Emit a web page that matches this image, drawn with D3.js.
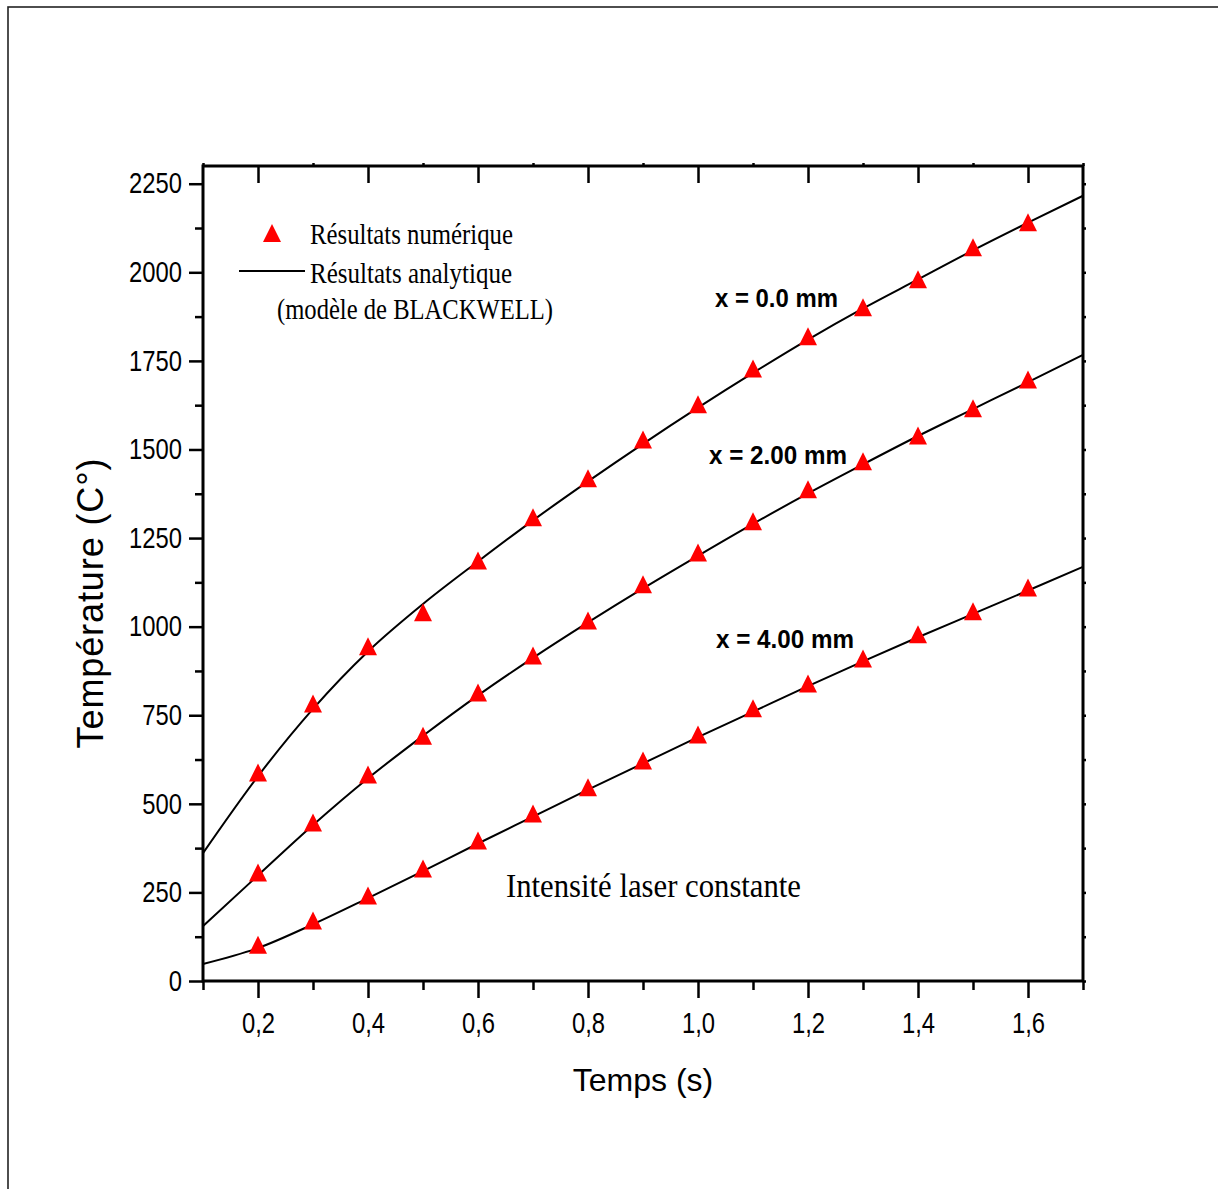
<!DOCTYPE html>
<html>
<head>
<meta charset="utf-8">
<script src="https://cdn.jsdelivr.net/npm/d3@7"></script>
<style>
body { margin: 0; background: #fff; }
svg { display: block; }
.tick text { font-family: "Liberation Sans Narrow", "Liberation Sans", Arial, sans-serif; font-size: 29px; fill: #000; }
.tick line { stroke: #000; stroke-width: 2.5; }
</style>
</head>
<body>
<svg id="chart" width="1218" height="1189"></svg>
<script>
// time (s)
var times = [0.2, 0.3, 0.4, 0.5, 0.6, 0.7, 0.8, 0.9, 1.0, 1.1, 1.2, 1.3, 1.4, 1.5, 1.6];
// numerical results (triangles)
var num_x0 = [580, 775, 936, 1032, 1178, 1300, 1410, 1520, 1619, 1720, 1811, 1893, 1972, 2062, 2133];
var num_x2 = [298, 439, 574, 684, 806, 910, 1009, 1111, 1201, 1289, 1379, 1458, 1531, 1608, 1689];
var num_x4 = [94, 162, 233, 309, 388, 464, 538, 614, 687, 761, 831, 902, 970, 1035, 1102];

// analytic curves (Blackwell), sampled along the drawn line
var line_t = [0.1, 0.2, 0.3, 0.4, 0.5, 0.6, 0.7, 0.8, 0.9, 1.0, 1.1, 1.2, 1.3, 1.4, 1.5, 1.6, 1.7];
var ana_x0 = [361, 578, 768, 930, 1064, 1184, 1300, 1410, 1516, 1618, 1716, 1810, 1898, 1980, 2062, 2140, 2216];
var ana_x2 = [155, 298, 440, 572, 692, 806, 912, 1012, 1108, 1200, 1290, 1376, 1458, 1538, 1614, 1690, 1767];
var ana_x4 = [48, 93, 160, 234, 310, 388, 464, 540, 614, 688, 760, 832, 902, 970, 1036, 1102, 1169];

var x_major = [0.2, 0.4, 0.6, 0.8, 1.0, 1.2, 1.4, 1.6];
var x_minor = [0.1, 0.3, 0.5, 0.7, 0.9, 1.1, 1.3, 1.5, 1.7];
var y_major = [0, 250, 500, 750, 1000, 1250, 1500, 1750, 2000, 2250];
var y_minor = [125, 375, 625, 875, 1125, 1375, 1625, 1875, 2125];

var labels = ["x = 0.0 mm", "x = 2.00 mm", "x = 4.00 mm"];

var svg = d3.select("#chart");
var pl = 203, pr = 1083, pt = 166, pb = 981;

var x = d3.scaleLinear().domain([0.1, 1.7]).range([pl, pr]);
var y = d3.scaleLinear().domain([0, 2300]).range([pb, pt]);

// outer border
svg.append("rect")
	.attr("x", 8).attr("y", 7)
	.attr("width", 1230).attr("height", 1200)
	.attr("fill", "none").attr("stroke", "#222").attr("stroke-width", 1.6);

var fmt = function(d){ return d3.format(".1f")(d).replace(".", ","); };

// squeeze labels to look like a narrow font
function narrow(g){
	g.select(".domain").remove();
	g.selectAll(".tick text").each(function(){
		var w = this.getComputedTextLength();
		d3.select(this).attr("textLength", w * 0.82).attr("lengthAdjust", "spacingAndGlyphs");
	});
}
function nodomain(g){ g.select(".domain").remove(); }

// bottom axis
svg.append("g").attr("transform", "translate(0," + pb + ")")
	.call(d3.axisBottom(x).tickValues(x_major).tickSize(17).tickPadding(14).tickFormat(fmt))
	.call(narrow);
svg.append("g").attr("transform", "translate(0," + pb + ")")
	.call(d3.axisBottom(x).tickValues(x_minor).tickSize(9).tickFormat(""))
	.call(nodomain);

// top axis (inward)
svg.append("g").attr("transform", "translate(0," + pt + ")")
	.call(d3.axisTop(x).tickValues(x_major).tickSize(-17).tickFormat(""))
	.call(nodomain);
svg.append("g").attr("transform", "translate(0," + pt + ")")
	.call(d3.axisTop(x).tickValues(x_minor).tickSize(3).tickFormat(""))
	.call(nodomain);

// left axis
svg.append("g").attr("transform", "translate(" + pl + ",0)")
	.call(d3.axisLeft(y).tickValues(y_major).tickSize(14).tickPadding(7).tickFormat(d3.format("d")))
	.call(narrow);
svg.append("g").attr("transform", "translate(" + pl + ",0)")
	.call(d3.axisLeft(y).tickValues(y_minor).tickSize(8).tickFormat(""))
	.call(nodomain);

// right axis (tiny ticks)
svg.append("g").attr("transform", "translate(" + pr + ",0)")
	.call(d3.axisRight(y).tickValues(y_major.concat(y_minor)).tickSize(3).tickFormat(""))
	.call(nodomain);

// frame
svg.append("rect")
	.attr("x", pl).attr("y", pt)
	.attr("width", pr - pl).attr("height", pb - pt)
	.attr("fill", "none").attr("stroke", "#000").attr("stroke-width", 3);

// analytic lines
var line = d3.line()
	.x(function(d){ return x(d[0]); })
	.y(function(d){ return y(d[1]); })
	.curve(d3.curveMonotoneX);

[ana_x0, ana_x2, ana_x4].forEach(function(vals){
	svg.append("path")
		.datum(line_t.map(function(t, i){ return [t, vals[i]]; }))
		.attr("d", line)
		.attr("fill", "none")
		.attr("stroke", "#000")
		.attr("stroke-width", 2);
});

// triangle marker, centred near its centroid like the original
var tri = {
	draw: function(ctx){
		ctx.moveTo(0, -12);
		ctx.lineTo(9, 6);
		ctx.lineTo(-9, 6);
		ctx.closePath();
	}
};
var sym = d3.symbol().type(tri);

[num_x0, num_x2, num_x4].forEach(function(vals){
	svg.append("g")
		.selectAll("path")
		.data(times.map(function(t, i){ return [t, vals[i]]; }))
		.enter().append("path")
		.attr("d", sym)
		.attr("transform", function(d){ return "translate(" + x(d[0]) + "," + y(d[1]) + ")"; })
		.attr("fill", "#ff0000");
});

// curve labels
var label_pos = [[715, 307, 123], [709, 464, 138], [716, 648, 138]];
labels.forEach(function(txt, i){
	svg.append("text")
		.attr("x", label_pos[i][0]).attr("y", label_pos[i][1])
		.attr("textLength", label_pos[i][2])
		.attr("lengthAdjust", "spacingAndGlyphs")
		.style("font-family", "'Liberation Sans Narrow', 'Liberation Sans', sans-serif")
		.style("font-weight", "bold")
		.style("font-size", "26px")
		.text(txt);
});

// legend
svg.append("path")
	.attr("d", sym)
	.attr("transform", "translate(272,236)")
	.attr("fill", "#ff0000");
svg.append("line")
	.attr("x1", 239).attr("x2", 305)
	.attr("y1", 271).attr("y2", 271)
	.attr("stroke", "#000").attr("stroke-width", 2);

var serif = function(sel, xx, yy, len, size, txt){
	sel.append("text")
		.attr("x", xx).attr("y", yy)
		.attr("textLength", len)
		.attr("lengthAdjust", "spacingAndGlyphs")
		.style("font-family", "'Liberation Serif', 'Times New Roman', serif")
		.style("font-size", size + "px")
		.text(txt);
};
serif(svg, 310, 244, 203, 29, "Résultats numérique");
serif(svg, 310, 283, 202, 29, "Résultats analytique");
serif(svg, 277, 319, 276, 29, "(modèle de BLACKWELL)");
serif(svg, 506, 897, 295, 33, "Intensité laser constante");

// axis titles
svg.append("text")
	.attr("x", 643).attr("y", 1091)
	.attr("text-anchor", "middle")
	.style("font-family", "'Liberation Sans', Arial, sans-serif")
	.style("font-size", "32px")
	.text("Temps (s)");

svg.append("text")
	.attr("transform", "translate(103,603) rotate(-90)")
	.attr("text-anchor", "middle")
	.style("font-family", "'Liberation Sans', Arial, sans-serif")
	.style("font-size", "36px")
	.style("letter-spacing", "0.9px")
	.text("Température (C°)");
</script>
</body>
</html>
